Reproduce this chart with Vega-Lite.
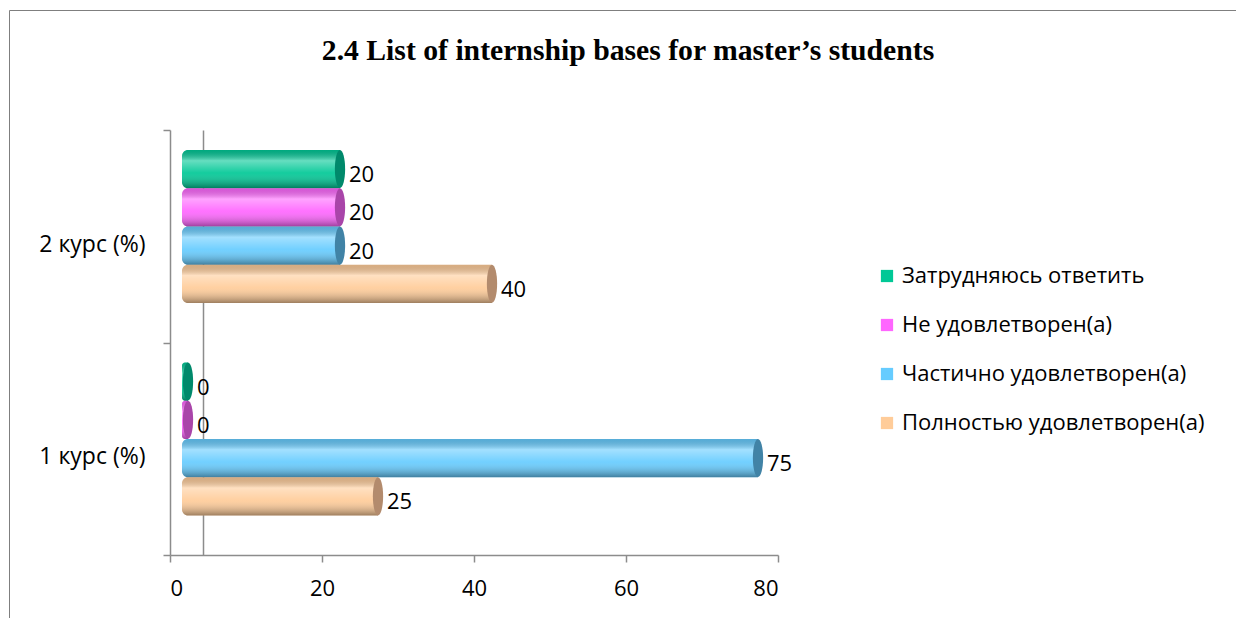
{
  "$schema": "https://vega.github.io/schema/vega-lite/v6.json",
  "autosize": "none",
  "width": 608,
  "height": 425,
  "padding": {"left": 170, "top": 130, "right": 458, "bottom": 63},
  "background": "white",
  "title": {
    "text": "2.4 List of internship bases for master’s students",
    "font": "Liberation Serif",
    "fontSize": 29.7,
    "fontWeight": "bold",
    "color": "black",
    "anchor": "middle",
    "frame": "group",
    "dx": 154,
    "baseline": "alphabetic",
    "offset": -80
  },
  "data": {
    "values": [
      {"course": "2 курс (%)", "resp": "Затрудняюсь ответить", "v": 20},
      {"course": "2 курс (%)", "resp": "Не удовлетворен(а)", "v": 20},
      {"course": "2 курс (%)", "resp": "Частично удовлетворен(а)", "v": 20},
      {"course": "2 курс (%)", "resp": "Полностью удовлетворен(а)", "v": 40},
      {"course": "1 курс (%)", "resp": "Затрудняюсь ответить", "v": 0},
      {"course": "1 курс (%)", "resp": "Не удовлетворен(а)", "v": 0},
      {"course": "1 курс (%)", "resp": "Частично удовлетворен(а)", "v": 75},
      {"course": "1 курс (%)", "resp": "Полностью удовлетворен(а)", "v": 25}
    ]
  },
  "encoding": {
    "x": {
      "field": "v",
      "type": "quantitative",
      "stack": null,
      "scale": {"domain": [0, 80], "nice": false},
      "axis": {
        "values": [0, 20, 40, 60, 80],
        "title": null,
        "grid": false,
        "domainColor": "#8c8c8c",
        "domainWidth": 1.5,
        "tickColor": "#8c8c8c",
        "tickWidth": 1.5,
        "tickSize": 7,
        "labelFont": "Open Sans",
        "labelFontSize": 22,
        "labelColor": "black",
        "labelPadding": 16
      }
    }
  },
  "layer": [
    {
      "mark": {"type": "tick", "opacity": 0},
      "encoding": {
        "y": {
          "field": "course",
          "type": "nominal",
          "sort": ["2 курс (%)", "1 курс (%)"],
          "scale": {"paddingInner": 0, "paddingOuter": 0},
          "axis": {
            "orient": "left",
            "title": null,
            "domainColor": "#8c8c8c",
            "domainWidth": 1.5,
            "tickColor": "#8c8c8c",
            "tickWidth": 1.5,
            "tickSize": 7,
            "tickBand": "extent",
            "labelFont": "Open Sans",
            "labelFontSize": 23,
            "labelColor": "black",
            "labelPadding": 18,
            "labelOffset": 8
          }
        }
      }
    },
    {
      "encoding": {
        "y": {
          "field": "course",
          "type": "nominal",
          "sort": ["2 курс (%)", "1 курс (%)"],
          "scale": {"paddingInner": 0.28, "paddingOuter": 0.14, "align": 0.336},
          "axis": {
            "orient": "left",
            "offset": -33,
            "title": null,
            "labels": false,
            "ticks": false,
            "domainColor": "#8c8c8c",
            "domainWidth": 1.5
          }
        },
        "yOffset": {
          "field": "resp",
          "type": "nominal",
          "sort": ["Затрудняюсь ответить", "Не удовлетворен(а)", "Частично удовлетворен(а)", "Полностью удовлетворен(а)"]
        }
      },
      "layer": [
        {
          "mark": {"type": "bar", "xOffset": 18, "x2Offset": 12, "cornerRadiusTopLeft": 6, "cornerRadiusBottomLeft": 6},
          "encoding": {
            "x2": {"datum": 0},
            "color": {
              "field": "resp",
              "type": "nominal",
              "scale": {
                "domain": ["Затрудняюсь ответить", "Не удовлетворен(а)", "Частично удовлетворен(а)", "Полностью удовлетворен(а)"],
                "range": ["#00c896", "#ff66ff", "#66ccff", "#ffcc99"]
              },
              "legend": {
                "title": null,
                "orient": "none",
                "legendX": 706,
                "legendY": 135,
                "padding": 0,
                "symbolType": "square",
                "symbolSize": 150,
                "symbolStrokeWidth": 0,
                "labelFont": "Open Sans",
                "labelFontSize": 22,
                "labelColor": "black",
                "labelLimit": 400,
                "rowPadding": 27
              }
            }
          }
        },
        {
          "mark": {
            "type": "bar",
            "xOffset": 18,
            "x2Offset": 12,
            "cornerRadiusTopLeft": 6,
            "cornerRadiusBottomLeft": 6,
            "color": {
              "gradient": "linear",
              "x1": 0, "y1": 0, "x2": 0, "y2": 1,
              "stops": [
                {"offset": 0, "color": "rgba(0,0,0,0.15)"},
                {"offset": 0.28, "color": "rgba(255,255,255,0.4)"},
                {"offset": 0.6, "color": "rgba(255,255,255,0.08)"},
                {"offset": 1, "color": "rgba(0,0,0,0.38)"}
              ]
            }
          },
          "encoding": {
            "x2": {"datum": 0}
          }
        },
        {
          "mark": {
            "type": "point",
            "filled": true,
            "opacity": 1,
            "strokeWidth": 0,
            "xOffset": 18,
            "shape": "M0,-1A0.27,1,0,1,1,0,1A0.27,1,0,1,1,0,-1Z",
            "size": 1444
          },
          "encoding": {
            "color": {
              "field": "resp",
              "type": "nominal",
              "scale": {
                "domain": ["Затрудняюсь ответить", "Не удовлетворен(а)", "Частично удовлетворен(а)", "Полностью удовлетворен(а)"],
                "range": ["#00896b", "#a945a9", "#4183a6", "#b38b6d"]
              },
              "legend": null
            },
            "strokeDash": {
              "field": "course",
              "type": "nominal",
              "legend": {
                "title": null,
                "orient": "none",
                "legendX": -161,
                "legendY": -120,
                "padding": 800,
                "labelExpr": "''",
                "strokeColor": "#7f7f7f"
              }
            }
          }
        },
        {
          "mark": {
            "type": "text",
            "align": "left",
            "baseline": "middle",
            "dx": 27,
            "dy": 6,
            "font": "Open Sans",
            "fontSize": 22,
            "color": "black"
          },
          "encoding": {
            "text": {"field": "v", "type": "quantitative"}
          }
        }
      ],
      "resolve": {"scale": {"color": "independent"}}
    }
  ],
  "resolve": {"scale": {"y": "independent", "yOffset": "independent"}, "axis": {"y": "independent"}},
  "config": {"view": {"stroke": null}}
}
